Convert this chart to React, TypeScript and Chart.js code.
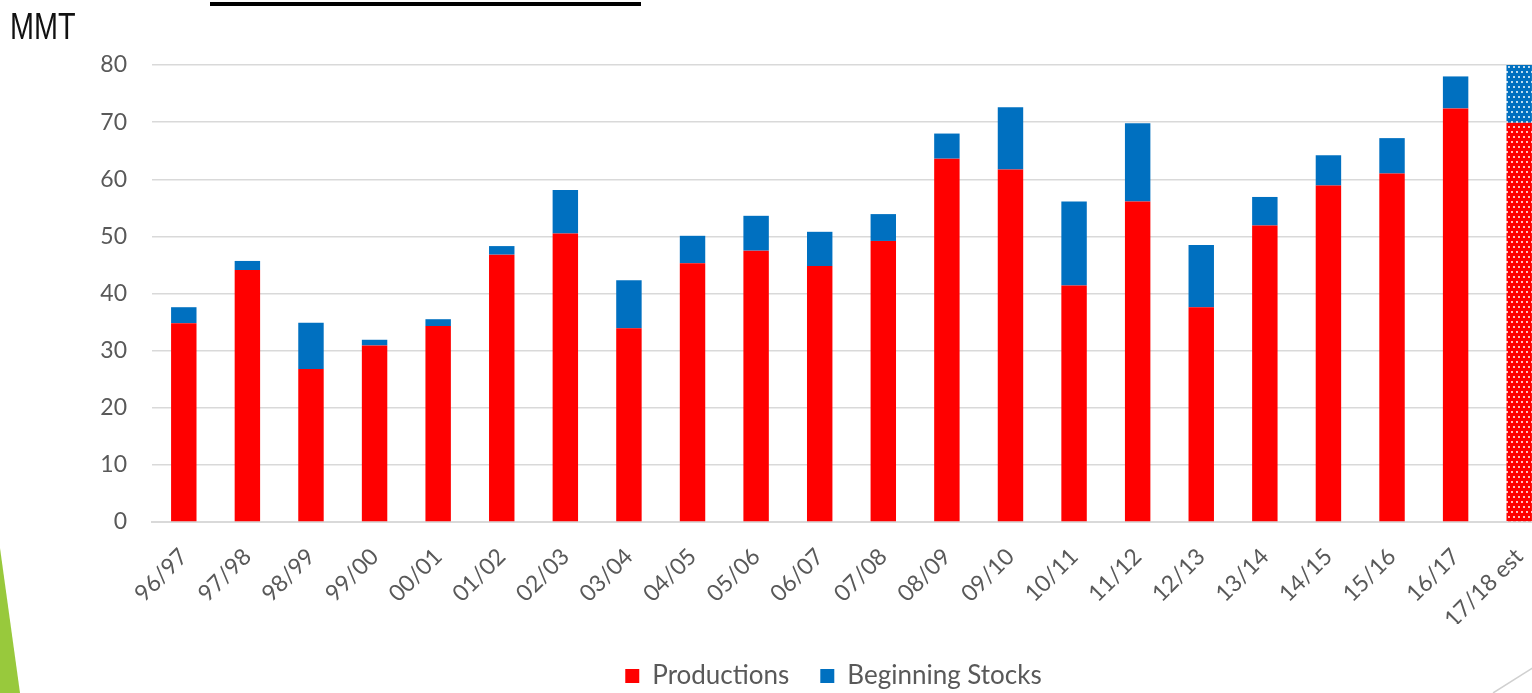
import React, { useEffect, useRef } from "react";
import { Chart, registerables } from "chart.js";

Chart.register(...registerables);

const categories = [
  "96/97", "97/98", "98/99", "99/00", "00/01", "01/02", "02/03", "03/04",
  "04/05", "05/06", "06/07", "07/08", "08/09", "09/10", "10/11", "11/12",
  "12/13", "13/14", "14/15", "15/16", "16/17", "17/18 est",
];

const productions = [
  34.8, 44.1, 26.8, 30.9, 34.3, 46.8, 50.5, 33.9, 45.3, 47.5, 44.8,
  49.2, 63.6, 61.7, 41.4, 56.1, 37.6, 51.9, 58.9, 61.0, 72.4, 69.9,
];

const beginningStocks = [
  2.8, 1.6, 8.1, 1.0, 1.2, 1.5, 7.6, 8.4, 4.8, 6.1, 6.0,
  4.7, 4.4, 10.9, 14.7, 13.7, 10.9, 5.0, 5.3, 6.2, 5.6, 12.0,
];

const yTicks = [0, 10, 20, 30, 40, 50, 60, 70, 80];

const RED = "#FF0000";
const BLUE = "#0070C0";
const TICK_COLOR = "#595959";
const GRID_COLOR = "#D9D9D9";

const CANVAS_W = 1551;
const CANVAS_H = 693;
const PLOT_LEFT = 152;
const PLOT_TOP = 65;
const PLOT_BOTTOM = 522;
const PAD_BOTTOM = 2;
const LEGEND_DX = 58;
const LEGEND_DY = 8;

function makeDots(base: string): CanvasPattern | string {
  const c = document.createElement("canvas");
  c.width = 10;
  c.height = 10;
  const ctx = c.getContext("2d");
  if (!ctx) return base;
  ctx.fillStyle = base;
  ctx.fillRect(0, 0, 10, 10);
  ctx.fillStyle = "rgba(255,255,255,0.75)";
  ctx.fillRect(1, 1, 2, 2);
  ctx.fillRect(6, 1, 2, 2);
  ctx.fillRect(3, 6, 2, 2);
  ctx.fillRect(8, 6, 2, 2);
  const p = ctx.createPattern(c, "repeat");
  return p || base;
}

const legendShift = {
  id: "legendShift",
  afterLayout(chart: any) {
    const lg = chart.legend;
    if (!lg) return;
    lg.left += LEGEND_DX;
    lg.right += LEGEND_DX;
    lg.top += LEGEND_DY;
    lg.bottom += LEGEND_DY;
  },
};

export default function App() {
  const canvasRef = useRef<HTMLCanvasElement | null>(null);

  useEffect(() => {
    document.documentElement.style.overflow = "hidden";
    document.body.style.overflow = "hidden";
    const canvas = canvasRef.current;
    if (!canvas) return;
    const redDots = makeDots(RED);
    const blueDots = makeDots(BLUE);
    const last = categories.length - 1;
    const redColors = categories.map((_, i) => (i === last ? redDots : RED));
    const blueColors = categories.map((_, i) => (i === last ? blueDots : BLUE));

    const chart = new Chart(canvas, {
      type: "bar",
      data: {
        labels: categories,
        datasets: [
          {
            label: "Productions",
            data: productions,
            backgroundColor: redColors as any,
            borderWidth: 0,
            barPercentage: 0.4,
            categoryPercentage: 1,
          },
          {
            label: "Beginning Stocks",
            data: beginningStocks,
            backgroundColor: blueColors as any,
            borderWidth: 0,
            barPercentage: 0.4,
            categoryPercentage: 1,
          },
        ],
      },
      plugins: [legendShift],
      options: {
        responsive: false,
        animation: false,
        maintainAspectRatio: false,
        layout: { padding: { left: 0, right: 0, top: PLOT_TOP, bottom: PAD_BOTTOM } },
        plugins: {
          tooltip: { enabled: false },
          title: { display: false },
          legend: {
            position: "bottom",
            labels: {
              color: TICK_COLOR,
              font: { family: "Lato", size: 26 },
              boxWidth: 14,
              boxHeight: 14,
              padding: 31,
              generateLabels: () => [
                { text: "Productions", fillStyle: RED, strokeStyle: RED, lineWidth: 0, hidden: false, datasetIndex: 0, fontColor: TICK_COLOR },
                { text: "Beginning Stocks", fillStyle: BLUE, strokeStyle: BLUE, lineWidth: 0, hidden: false, datasetIndex: 1, fontColor: TICK_COLOR },
              ] as any,
            },
          },
        },
        scales: {
          x: {
            stacked: true,
            grid: { display: false, drawTicks: false },
            border: { display: true, color: GRID_COLOR, width: 2 },
            ticks: {
              color: TICK_COLOR,
              font: { family: "Lato", size: 23 },
              minRotation: 45,
              maxRotation: 45,
              autoSkip: false,
              padding: 21,
            },
            afterFit: (scale: any) => {
              const lg = scale.chart.legend;
              const lh = lg ? lg.height : 0;
              scale.height = CANVAS_H - PLOT_BOTTOM - lh - PAD_BOTTOM;
              scale.paddingLeft = 0;
              scale.paddingRight = 0;
            },
          },
          y: {
            stacked: true,
            min: 0,
            max: 80,
            afterBuildTicks: (scale: any) => {
              scale.ticks = yTicks.map((v) => ({ value: v }));
            },
            grid: { color: GRID_COLOR, lineWidth: 1.5, drawTicks: false },
            border: { display: false },
            ticks: {
              color: TICK_COLOR,
              font: { family: "Lato", size: 23 },
              padding: 25,
            },
            afterFit: (scale: any) => {
              scale.width = PLOT_LEFT;
            },
          },
        },
      },
    });
    return () => chart.destroy();
  }, []);

  return (
    <div style={{ position: "absolute", left: 0, top: 0, width: 1532, height: 693, overflow: "hidden", background: "#fff" }}>
      <canvas ref={canvasRef} width={CANVAS_W} height={CANVAS_H} style={{ position: "absolute", left: 0, top: 0, width: CANVAS_W, height: CANVAS_H }} />
      <div style={{ position: "absolute", left: 10, top: 6, fontFamily: "'Liberation Sans', sans-serif", fontSize: 36, color: "#111", lineHeight: "42px", transform: "scaleX(0.8)", transformOrigin: "left top" }}>MMT</div>
      <div style={{ position: "absolute", left: 210, top: 2, width: 431, height: 4, background: "#000" }} />
      <svg width={1532} height={693} style={{ position: "absolute", left: 0, top: 0, pointerEvents: "none" }}>
        <polygon points="0,548 20,693 0,693" fill="#98C93C" />
        <line x1={1493} y1={693} x2={1534} y2={667} stroke="#D0D0D0" strokeWidth={1.5} />
      </svg>
    </div>
  );
}
